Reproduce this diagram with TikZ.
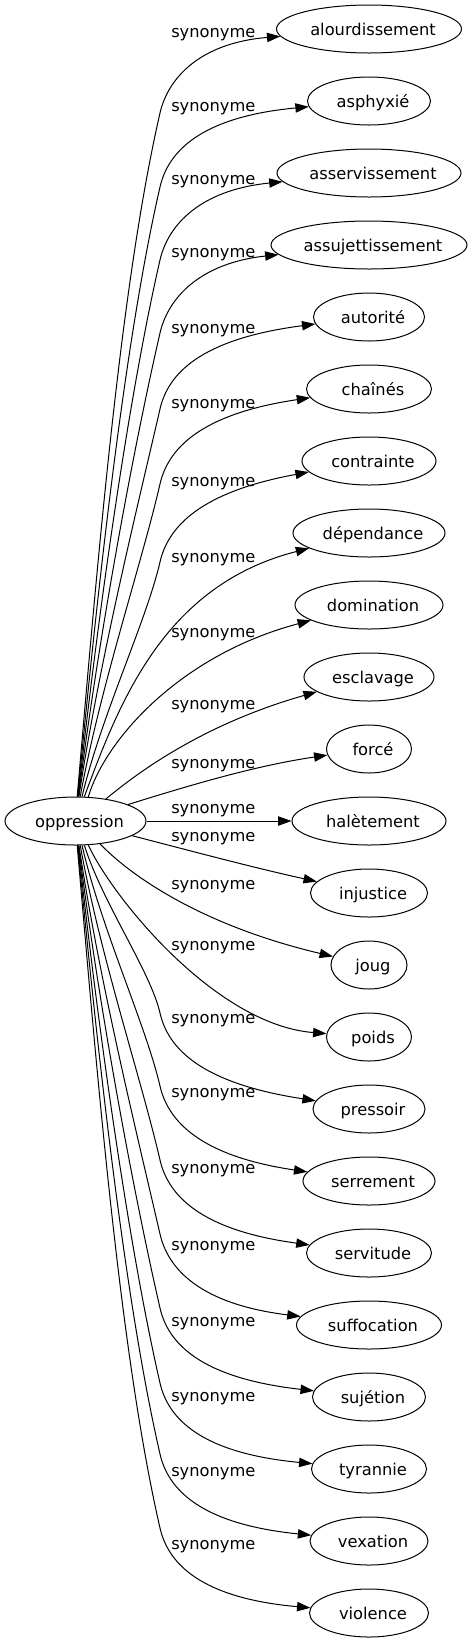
\documentclass[tikz,border=0pt]{standalone}
\usepackage{fontspec}
\setmainfont{DejaVu Sans}
\usetikzlibrary{arrows.meta,shapes.geometric}
\newcommand\gvfont{\fontsize{12.2pt}{14pt}\selectfont}
\newcommand\gvtxt[1]{\makebox[0pt]{\hspace*{6pt}#1}}
\begin{document}
\begin{tikzpicture}[x=0.75pt,y=-0.75pt,
  term/.style={ellipse, draw, line width=0.75pt, inner sep=0pt, text height=9pt, text depth=0pt, minimum height=36pt, font=\gvfont},
  lab/.style={anchor=base west, inner sep=0pt, font=\gvfont},
  syn/.style={line width=0.75pt, -{Triangle[length=10pt,width=7pt]}}]
\path[fill=white] (0,0) rectangle (473,1643);
\useasboundingbox (0,0) rectangle (473,1643);

\node[term, minimum width=141*0.75pt] (opp) at (75.5,821) {\gvtxt{oppression}};

\node[term, minimum width=185*0.75pt] (n0) at (369,29) {\gvtxt{alourdissement}};
\node[term, minimum width=123*0.75pt] (n1) at (369,101) {\gvtxt{asphyxié}};
\node[term, minimum width=184*0.75pt] (n2) at (369,173) {\gvtxt{asservissement}};
\node[term, minimum width=196*0.75pt] (n3) at (369,245) {\gvtxt{assujettissement}};
\node[term, minimum width=111*0.75pt] (n4) at (369,317) {\gvtxt{autorité}};
\node[term, minimum width=125*0.75pt] (n5) at (369,389) {\gvtxt{chaînés}};
\node[term, minimum width=134*0.75pt] (n6) at (369,461) {\gvtxt{contrainte}};
\node[term, minimum width=152*0.75pt] (n7) at (369,533) {\gvtxt{dépendance}};
\node[term, minimum width=148*0.75pt] (n8) at (369,605) {\gvtxt{domination}};
\node[term, minimum width=130*0.75pt] (n9) at (369,677) {\gvtxt{esclavage}};
\node[term, minimum width=85*0.75pt] (n10) at (369,749) {\gvtxt{forcé}};
\node[term, minimum width=154*0.75pt] (n11) at (369,821) {\gvtxt{halètement}};
\node[term, minimum width=117*0.75pt] (n12) at (369,893) {\gvtxt{injustice}};
\node[term, minimum width=76*0.75pt] (n13) at (369,965) {\gvtxt{joug}};
\node[term, minimum width=85*0.75pt] (n14) at (369,1037) {\gvtxt{poids}};
\node[term, minimum width=112*0.75pt] (n15) at (369,1109) {\gvtxt{pressoir}};
\node[term, minimum width=132*0.75pt] (n16) at (369,1181) {\gvtxt{serrement}};
\node[term, minimum width=125*0.75pt] (n17) at (369,1253) {\gvtxt{servitude}};
\node[term, minimum width=145*0.75pt] (n18) at (369,1325) {\gvtxt{suffocation}};
\node[term, minimum width=113*0.75pt] (n19) at (369,1397) {\gvtxt{sujétion}};
\node[term, minimum width=115*0.75pt] (n20) at (369,1469) {\gvtxt{tyrannie}};
\node[term, minimum width=118*0.75pt] (n21) at (369,1541) {\gvtxt{vexation}};
\node[term, minimum width=119*0.75pt] (n22) at (369,1613) {\gvtxt{violence}};

\node[lab] (l0) at (171,37) {synonyme};
\node[lab] (l1) at (171,111) {synonyme};
\node[lab] (l2) at (171,184) {synonyme};
\node[lab] (l3) at (171,257) {synonyme};
\node[lab] (l4) at (171,333) {synonyme};
\node[lab] (l5) at (171,408) {synonyme};
\node[lab] (l6) at (171,486) {synonyme};
\node[lab] (l7) at (171,562) {synonyme};
\node[lab] (l8) at (171,637) {synonyme};
\node[lab] (l9) at (171,709) {synonyme};
\node[lab] (l10) at (171,768) {synonyme};
\node[lab] (l11) at (171,813) {synonyme};
\node[lab] (l12) at (171,841) {synonyme};
\node[lab] (l13) at (171,889) {synonyme};
\node[lab] (l14) at (171,950) {synonyme};
\node[lab] (l15) at (171,1023) {synonyme};
\node[lab] (l16) at (171,1097) {synonyme};
\node[lab] (l17) at (171,1173) {synonyme};
\node[lab] (l18) at (171,1250) {synonyme};
\node[lab] (l19) at (171,1326) {synonyme};
\node[lab] (l20) at (171,1401) {synonyme};
\node[lab] (l21) at (171,1476) {synonyme};
\node[lab] (l22) at (171,1549) {synonyme};

\draw[syn] (opp.86) .. controls (97.8,557.6) and (120.7,284) .. (160,113) .. controls (168,78) and (200,43) .. (n0);
\draw[syn] (opp.85) .. controls (98.1,583.5) and (124.9,339.5) .. (160,187) .. controls (168,152) and (200,117) .. (n1);
\draw[syn] (opp.84) .. controls (98.5,609.1) and (129.1,394.3) .. (160,260) .. controls (168,225) and (200,190) .. (n2);
\draw[syn] (opp.83) .. controls (98.9,634.6) and (133.3,449) .. (160,333) .. controls (168,298) and (200,263) .. (n3);
\draw[syn] (opp.82) .. controls (99.3,661.2) and (137.7,506) .. (160,409) .. controls (168,374) and (200,339) .. (n4);
\draw[syn] (opp.79) .. controls (100,687.5) and (142,562.3) .. (160,484) .. controls (168,449) and (200,414) .. (n5);
\draw[syn] (opp.75) .. controls (101.5,714.8) and (146.5,620.8) .. (160,562) .. controls (168,527) and (200,492) .. (n6);
\draw[syn] (opp.70) .. controls (120,700) and (165,585) .. (n7);
\draw[syn] (opp.62) .. controls (105,740) and (180,655) .. (n8);
\draw[syn] (opp.36) .. controls (135,775) and (200,725) .. (n9);
\draw[syn] (opp) .. controls (200,782) and (260,765) .. (n10);
\draw[syn] (opp) -- (n11);
\draw[syn] (opp) .. controls (195,852) and (255,868) .. (n12);
\draw[syn] (opp.-43) .. controls (130,875) and (200,925) .. (n13);
\draw[syn] (opp.-62) .. controls (112.7,897.6) and (215.3,1024.7) .. (n14);
\draw[syn] (opp.-70) .. controls (103,903.8) and (150.3,971) .. (160,1013) .. controls (168,1048) and (200,1083) .. (n15);
\draw[syn] (opp.-75) .. controls (101.5,929.4) and (146.1,1025.8) .. (160,1086) .. controls (168,1121) and (200,1156) .. (n16);
\draw[syn] (opp.-79) .. controls (100,955.3) and (141.9,1081.3) .. (160,1160) .. controls (168,1195) and (200,1230) .. (n17);
\draw[syn] (opp.-82) .. controls (99.3,981.2) and (137.6,1136.8) .. (160,1234) .. controls (168,1269) and (200,1304) .. (n18);
\draw[syn] (opp.-83) .. controls (98.9,1007.1) and (133.4,1192.3) .. (160,1308) .. controls (168,1343) and (200,1378) .. (n19);
\draw[syn] (opp.-84) .. controls (98.5,1033.3) and (129.1,1248.5) .. (160,1383) .. controls (168,1418) and (200,1453) .. (n20);
\draw[syn] (opp.-85) .. controls (98.1,1058.2) and (125,1301.8) .. (160,1454) .. controls (168,1489) and (200,1524) .. (n21);
\draw[syn] (opp.-86) .. controls (97.8,1084.1) and (120.7,1357.3) .. (160,1528) .. controls (168,1563) and (200,1598) .. (n22);
\end{tikzpicture}
\end{document}
